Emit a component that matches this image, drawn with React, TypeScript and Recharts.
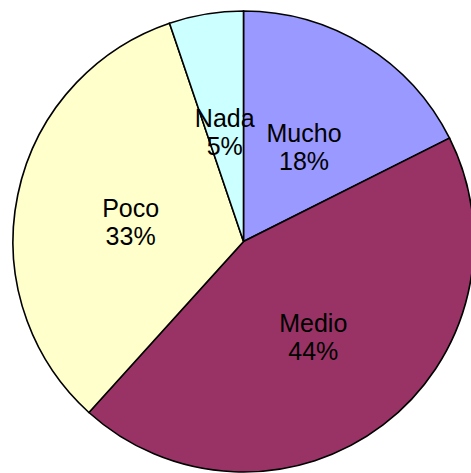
import { PieChart, Pie, Cell } from "recharts";

const categories = ["Mucho", "Medio", "Poco", "Nada"];
const shares = [17.6, 44.1, 33.1, 5.2];
const colors = ["#9999ff", "#993366", "#ffffcc", "#ccffff"];

const data = categories.map((name, i) => ({ name, value: shares[i] }));

const RAD = Math.PI / 180;

// two-line label: name on top, rounded percent below
function renderLabel(props: any) {
  const { cx, cy, midAngle, outerRadius, name, percent } = props;
  const r = outerRadius * 0.5;
  const x = cx + r * Math.cos(-midAngle * RAD);
  const y = cy + r * Math.sin(-midAngle * RAD);
  return (
    <text
      x={x}
      y={y}
      textAnchor="middle"
      fill="#000"
      fontFamily="'Liberation Sans', Arial, sans-serif"
      fontSize={25}
    >
      <tspan x={x} dy={-1}>
        {name}
      </tspan>
      <tspan x={x} dy={28}>
        {Math.round(percent * 100)}%
      </tspan>
    </text>
  );
}

export default function App() {
  return (
    <div style={{ position: "absolute", left: 0, top: 0, background: "#fff" }}>
      <PieChart width={471} height={473} margin={{ top: 0, right: 0, bottom: 0, left: 0 }}>
        <Pie
          data={data}
          dataKey="value"
          nameKey="name"
          cx={243.5}
          cy={241.5}
          outerRadius={230.5}
          startAngle={90}
          endAngle={-270}
          stroke="#000"
          strokeWidth={1.6}
          label={renderLabel}
          labelLine={false}
          isAnimationActive={false}
        >
          {data.map((_, i) => (
            <Cell key={i} fill={colors[i]} />
          ))}
        </Pie>
      </PieChart>
    </div>
  );
}
